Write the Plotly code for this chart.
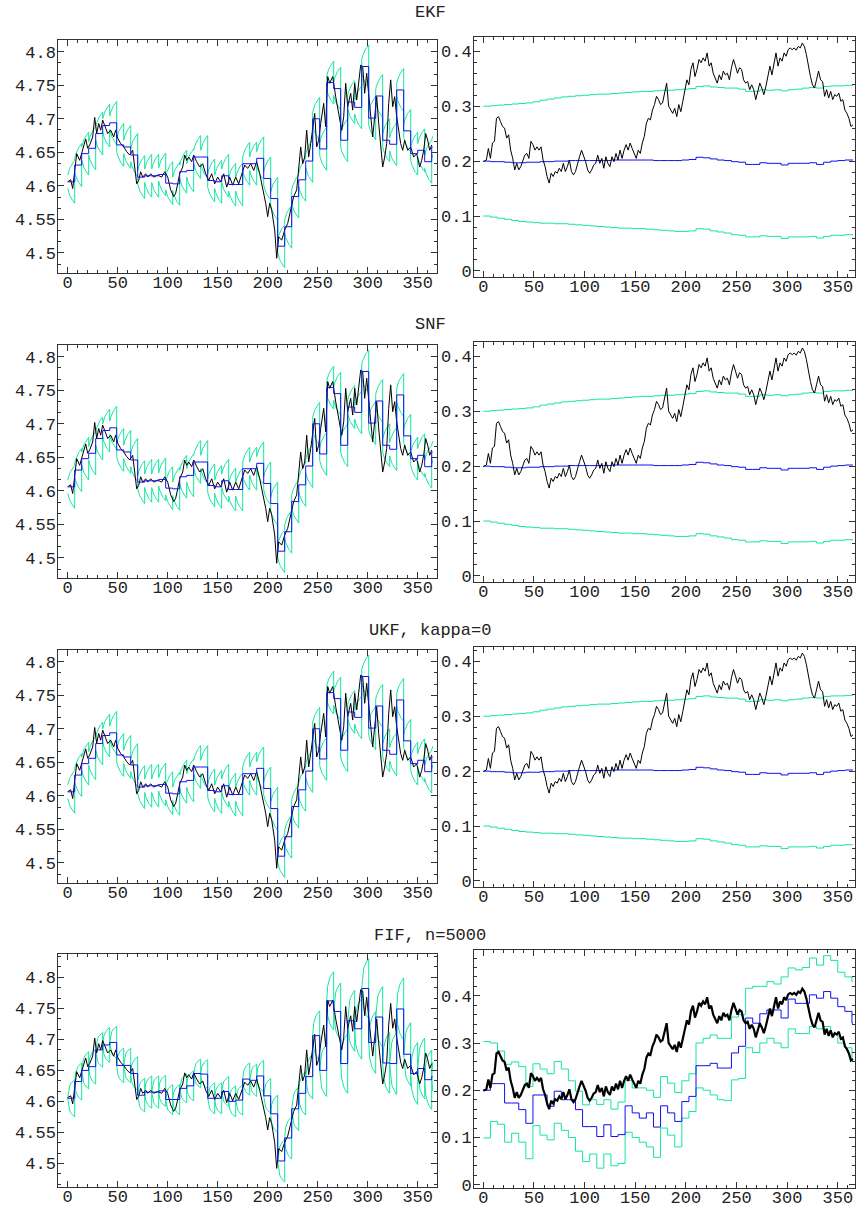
import plotly.graph_objects as go

W, H = 856, 1211
FONT = "Liberation Mono, Courier New, monospace"
GREEN = "#14E6A2"
BLUE = "#1010F0"
BLACK = "#000000"
FRAME = "#333333"

TITLES = ["EKF", "SNF", "UKF, kappa=0", "FIF, n=5000"]
LAST_DAY = 365
OBS_DAYS = list(range(0, 365, 7))  # weekly observations, 53 of them

# ---- observed log price (black, left panels) ----
PRICE_DAYS = [0, 3, 5, 8, 9, 12, 15, 18, 20, 22, 25, 27, 29, 31, 33, 35, 38, 40, 43, 46, 48, 50, 53, 56, 59,
              62, 65, 67, 69, 71, 73, 75, 78, 80, 83, 86, 90, 94, 97, 100, 103, 106, 108, 110, 112, 115, 117,
              119, 121, 124, 126, 129, 132, 135, 138, 141, 144, 147, 150, 153, 156, 159, 162, 165, 168, 171,
              174, 177, 180, 183, 186, 189, 192, 195, 198, 200, 202, 204, 207, 209, 211, 214, 217, 220, 223,
              226, 229, 231, 233, 235, 237, 239, 241, 243, 245, 247, 249, 251, 253, 256, 258, 260, 262, 265,
              268, 270, 272, 274, 276, 278, 280, 283, 285, 287, 289, 291, 293, 295, 297, 299, 301, 303, 305,
              307, 309, 311, 313, 315, 317, 319, 321, 323, 325, 327, 329, 331, 333, 335, 337, 340, 343, 346,
              349, 352, 354, 356, 358, 360, 362, 364]
PRICE = [4.606, 4.609, 4.596, 4.633, 4.648, 4.638, 4.653, 4.670, 4.656, 4.661, 4.673, 4.702, 4.678, 4.693,
         4.683, 4.698, 4.686, 4.678, 4.683, 4.673, 4.683, 4.671, 4.663, 4.658, 4.651, 4.646, 4.653, 4.628,
         4.603, 4.608, 4.621, 4.613, 4.618, 4.613, 4.618, 4.613, 4.616, 4.613, 4.621, 4.613, 4.594, 4.584,
         4.589, 4.603, 4.618, 4.628, 4.646, 4.638, 4.643, 4.636, 4.646, 4.636, 4.628, 4.633, 4.618, 4.608,
         4.618, 4.603, 4.613, 4.606, 4.618, 4.598, 4.613, 4.601, 4.613, 4.603, 4.618, 4.631, 4.626, 4.633,
         4.623, 4.636, 4.618, 4.598, 4.574, 4.554, 4.574, 4.564, 4.534, 4.492, 4.524, 4.519, 4.534, 4.544,
         4.564, 4.584, 4.594, 4.623, 4.658, 4.633, 4.643, 4.683, 4.643, 4.663, 4.688, 4.708, 4.658, 4.668,
         4.693, 4.723, 4.688, 4.763, 4.753, 4.763, 4.733, 4.718, 4.703, 4.683, 4.703, 4.753, 4.718, 4.738,
         4.713, 4.753, 4.728, 4.758, 4.780, 4.778, 4.738, 4.768, 4.738, 4.698, 4.673, 4.703, 4.733, 4.693,
         4.653, 4.628, 4.643, 4.663, 4.723, 4.758, 4.718, 4.733, 4.703, 4.683, 4.663, 4.653, 4.668, 4.653,
         4.658, 4.643, 4.648, 4.628, 4.638, 4.653, 4.678, 4.668, 4.653, 4.661]

# ---- filtered price estimates at each weekly observation (blue steps, left) ----
KF_PRICE_EST = [4.606, 4.631, 4.648, 4.656, 4.678, 4.690, 4.694, 4.661, 4.658, 4.646,
                4.613, 4.615, 4.615, 4.617, 4.604, 4.603, 4.621, 4.623, 4.643, 4.643,
                4.608, 4.606, 4.615, 4.602, 4.602, 4.633, 4.633, 4.641, 4.611, 4.581,
                4.510, 4.539, 4.584, 4.609, 4.637, 4.700, 4.655, 4.754, 4.745, 4.668,
                4.725, 4.717, 4.778, 4.701, 4.734, 4.668, 4.662, 4.743, 4.682, 4.648,
                4.653, 4.636, 4.658]
FIF_PRICE_EST = [4.605, 4.632, 4.650, 4.656, 4.683, 4.691, 4.695, 4.658, 4.658, 4.645,
                 4.610, 4.615, 4.615, 4.617, 4.603, 4.603, 4.621, 4.625, 4.645, 4.644,
                 4.605, 4.605, 4.616, 4.600, 4.602, 4.636, 4.634, 4.641, 4.609, 4.580,
                 4.504, 4.541, 4.588, 4.613, 4.640, 4.706, 4.650, 4.762, 4.745, 4.661,
                 4.730, 4.717, 4.782, 4.695, 4.736, 4.662, 4.661, 4.749, 4.676, 4.645,
                 4.653, 4.635, 4.640]
# band half-width by day since the last observation (EKF/SNF/UKF)
KF_BAND_HALFWIDTH = [0.010, 0.016, 0.020, 0.023, 0.026, 0.028, 0.030, 0.032]
# FIF: half-width at end of each week and relative shape within a week
FIF_BAND_END = [0.030, 0.030, 0.030, 0.028, 0.028, 0.028, 0.026, 0.028, 0.028, 0.027,
                0.027, 0.026, 0.026, 0.025, 0.024, 0.024, 0.023, 0.024, 0.023, 0.023,
                0.025, 0.025, 0.024, 0.025, 0.024, 0.026, 0.026, 0.025, 0.028, 0.030,
                0.034, 0.034, 0.035, 0.035, 0.036, 0.040, 0.042, 0.047, 0.046, 0.048,
                0.049, 0.049, 0.048, 0.050, 0.049, 0.049, 0.050, 0.050, 0.051, 0.050,
                0.049, 0.048, 0.047]
FIF_BAND_SHAPE = [0.0, 0.50, 0.66, 0.77, 0.85, 0.91, 0.96, 1.0]

# ---- true volatility (black, right panels) ----
VOL_DAYS = [0] + list(range(3, 366, 2))
VOL = [0.199, 0.202, 0.223, 0.205, 0.233, 0.236, 0.278, 0.281, 0.272, 0.263, 0.260, 0.242, 0.248, 0.220,
       0.205, 0.184, 0.196, 0.184, 0.190, 0.199, 0.211, 0.214, 0.205, 0.236, 0.230, 0.220, 0.226, 0.220,
       0.226, 0.202, 0.190, 0.172, 0.160, 0.178, 0.172, 0.181, 0.178, 0.187, 0.181, 0.196, 0.181, 0.190,
       0.202, 0.181, 0.175, 0.181, 0.196, 0.208, 0.220, 0.211, 0.199, 0.184, 0.178, 0.184, 0.193, 0.196,
       0.211, 0.196, 0.205, 0.187, 0.208, 0.196, 0.190, 0.208, 0.199, 0.214, 0.202, 0.220, 0.205, 0.220,
       0.230, 0.220, 0.233, 0.223, 0.214, 0.205, 0.220, 0.214, 0.233, 0.245, 0.269, 0.278, 0.275, 0.293,
       0.303, 0.318, 0.312, 0.303, 0.306, 0.327, 0.342, 0.300, 0.293, 0.287, 0.296, 0.281, 0.303, 0.290,
       0.309, 0.330, 0.348, 0.339, 0.367, 0.379, 0.354, 0.367, 0.385, 0.379, 0.388, 0.382, 0.397, 0.373,
       0.379, 0.360, 0.351, 0.342, 0.357, 0.348, 0.364, 0.357, 0.360, 0.348, 0.370, 0.385, 0.373, 0.360,
       0.370, 0.367, 0.348, 0.342, 0.345, 0.330, 0.339, 0.330, 0.312, 0.330, 0.342, 0.333, 0.321, 0.336,
       0.357, 0.373, 0.357, 0.379, 0.397, 0.373, 0.388, 0.382, 0.397, 0.391, 0.403, 0.406, 0.403, 0.406,
       0.402, 0.409, 0.406, 0.415, 0.409, 0.394, 0.370, 0.354, 0.339, 0.333, 0.348, 0.364, 0.348, 0.345,
       0.318, 0.330, 0.315, 0.327, 0.312, 0.321, 0.318, 0.324, 0.309, 0.312, 0.293, 0.287, 0.278, 0.263,
       0.266]

# ---- volatility estimates and bands (right panels), weekly ----
KF_VOL_UP = [0.300, 0.301, 0.302, 0.303, 0.304, 0.305, 0.306, 0.308, 0.311, 0.313,
             0.315, 0.317, 0.318, 0.319, 0.320, 0.321, 0.322, 0.322, 0.323, 0.324,
             0.325, 0.326, 0.327, 0.327, 0.328, 0.329, 0.329, 0.330, 0.331, 0.332,
             0.336, 0.337, 0.335, 0.334, 0.333, 0.333, 0.331, 0.327, 0.327, 0.330,
             0.329, 0.330, 0.328, 0.330, 0.331, 0.333, 0.334, 0.333, 0.336, 0.337,
             0.337, 0.338, 0.338]
KF_VOL_EST = [0.200, 0.199, 0.199, 0.198, 0.197, 0.197, 0.198, 0.198, 0.199, 0.199,
              0.200, 0.200, 0.201, 0.201, 0.201, 0.201, 0.201, 0.201, 0.202, 0.202,
              0.202, 0.202, 0.202, 0.202, 0.201, 0.201, 0.201, 0.201, 0.202, 0.203,
              0.207, 0.206, 0.204, 0.202, 0.201, 0.199, 0.198, 0.194, 0.194, 0.197,
              0.196, 0.196, 0.193, 0.196, 0.196, 0.196, 0.197, 0.194, 0.198, 0.200,
              0.201, 0.202, 0.202]
KF_VOL_LO = [0.100, 0.098, 0.096, 0.094, 0.092, 0.090, 0.089, 0.088, 0.087, 0.087,
             0.086, 0.086, 0.085, 0.084, 0.083, 0.082, 0.081, 0.080, 0.079, 0.078,
             0.078, 0.077, 0.077, 0.076, 0.075, 0.074, 0.073, 0.072, 0.072, 0.073,
             0.077, 0.076, 0.073, 0.071, 0.069, 0.066, 0.065, 0.062, 0.062, 0.064,
             0.063, 0.063, 0.059, 0.062, 0.062, 0.062, 0.063, 0.060, 0.063, 0.065,
             0.065, 0.066, 0.066]
FIF_VOL_UP = [0.303, 0.300, 0.283, 0.255, 0.260, 0.250, 0.208, 0.256, 0.245, 0.235,
              0.261, 0.245, 0.220, 0.198, 0.169, 0.180, 0.170, 0.180, 0.160, 0.175,
              0.221, 0.205, 0.205, 0.200, 0.185, 0.229, 0.215, 0.195, 0.220, 0.235,
              0.300, 0.310, 0.317, 0.310, 0.310, 0.355, 0.360, 0.416, 0.420, 0.420,
              0.430, 0.425, 0.440, 0.459, 0.455, 0.460, 0.480, 0.465, 0.485, 0.475,
              0.450, 0.440, 0.430]
FIF_VOL_EST = [0.200, 0.214, 0.214, 0.173, 0.173, 0.159, 0.130, 0.190, 0.190, 0.166,
               0.198, 0.180, 0.180, 0.159, 0.123, 0.123, 0.102, 0.127, 0.102, 0.106,
               0.167, 0.152, 0.141, 0.152, 0.122, 0.167, 0.152, 0.134, 0.176, 0.187,
               0.252, 0.252, 0.257, 0.247, 0.247, 0.279, 0.293, 0.353, 0.342, 0.362,
               0.370, 0.370, 0.353, 0.393, 0.384, 0.384, 0.402, 0.395, 0.409, 0.395,
               0.377, 0.367, 0.342]
FIF_VOL_LO = [0.099, 0.134, 0.128, 0.090, 0.109, 0.090, 0.055, 0.125, 0.105, 0.095,
              0.130, 0.115, 0.100, 0.071, 0.049, 0.065, 0.035, 0.065, 0.040, 0.045,
              0.111, 0.100, 0.090, 0.080, 0.058, 0.120, 0.105, 0.080, 0.141, 0.155,
              0.205, 0.200, 0.190, 0.180, 0.178, 0.222, 0.225, 0.290, 0.280, 0.300,
              0.310, 0.300, 0.290, 0.330, 0.320, 0.320, 0.335, 0.330, 0.335, 0.320,
              0.300, 0.290, 0.265]

# ---------------- layout geometry (page pixels) ----------------
LEFT_X = (58.3, 436.7)
RIGHT_X = (474.0, 855.0)
LEFT_Y = [(40, 273), (345, 578), (650, 883), (954, 1187)]
RIGHT_Y = [(37, 277), (342, 582), (647, 887), (950, 1188)]
TITLE_Y = [13, 325, 630, 935]
TITLE_X = 430
LEFT_YRANGE = [(4.470, 4.8175)] * 3 + [(4.462, 4.8376)]
RIGHT_YRANGE = [(-0.011, 0.426)] * 3 + [(-0.007, 0.497)]


def fx(px):
    return px / W


def fy(py):
    return 1 - py / H


def band_line(centers, halfwidth, sign):
    xs, ys = [], []
    for k, c in enumerate(centers):
        start = OBS_DAYS[k]
        end = min(start + 7, LAST_DAY)
        for j in range(end - start + 1):
            xs.append(start + j)
            ys.append(c + sign * halfwidth(k, j))
    return xs, ys


fig = go.Figure()


def add(trace, idx):
    sfx = "" if idx == 1 else str(idx)
    trace.update(xaxis="x" + sfx, yaxis="y" + sfx, showlegend=False, hoverinfo="skip")
    fig.add_trace(trace)


step_x = OBS_DAYS + [LAST_DAY]
for r in range(4):
    li = 2 * r + 1
    ri = 2 * r + 2
    fif = (r == 3)
    centers = FIF_PRICE_EST if fif else KF_PRICE_EST
    if fif:
        hw = lambda k, j: FIF_BAND_END[k] * FIF_BAND_SHAPE[j]
    else:
        hw = lambda k, j: KF_BAND_HALFWIDTH[j]
    for sgn in (1, -1):
        bx, by = band_line(centers, hw, sgn)
        add(go.Scatter(x=bx, y=by, mode="lines", line=dict(color=GREEN, width=1)), li)
    add(go.Scatter(x=PRICE_DAYS, y=PRICE, mode="lines", line=dict(color=BLACK, width=1)), li)
    add(go.Scatter(x=step_x, y=centers + [centers[-1]], mode="lines", line_shape="hv",
                   line=dict(color=BLUE, width=1)), li)

    up, est, lo = (FIF_VOL_UP, FIF_VOL_EST, FIF_VOL_LO) if fif else (KF_VOL_UP, KF_VOL_EST, KF_VOL_LO)
    for series, col in ((up, GREEN), (lo, GREEN), (est, BLUE)):
        add(go.Scatter(x=step_x, y=series + [series[-1]], mode="lines", line_shape="hv",
                       line=dict(color=col, width=1)), ri)
    add(go.Scatter(x=VOL_DAYS, y=VOL, mode="lines",
                   line=dict(color=BLACK, width=2.2 if fif else 1)), ri)

layout = dict(width=W, height=H, margin=dict(l=0, r=0, t=0, b=0, autoexpand=False),
              paper_bgcolor="white", plot_bgcolor="white",
              font=dict(family=FONT, size=17, color="#222"))

axis_common = dict(showgrid=False, zeroline=False, showline=True, linecolor=FRAME, linewidth=1,
                   mirror="allticks", ticks="inside", ticklen=6, tickwidth=1, tickcolor=FRAME,
                   automargin=False, tickfont=dict(family=FONT, size=17, color="#222"))

for r in range(4):
    for c in range(2):
        idx = 2 * r + c + 1
        sfx = "" if idx == 1 else str(idx)
        if c == 0:
            x0, x1 = LEFT_X
            y0, y1 = LEFT_Y[r]
            xr = [-9.4, 369.0]
            yr = LEFT_YRANGE[r]
            ytick = dict(tick0=4.5, dtick=0.05, minor=dict(dtick=0.05 / 3, ticklen=3, ticks="inside",
                                                          tickcolor=FRAME))
        else:
            x0, x1 = RIGHT_X
            y0, y1 = RIGHT_Y[r]
            xr = [-9.2, 367.0]
            yr = RIGHT_YRANGE[r]
            ytick = dict(tick0=0, dtick=0.1, minor=dict(dtick=0.02, ticklen=3, ticks="inside",
                                                        tickcolor=FRAME))
        layout["xaxis" + sfx] = dict(axis_common, domain=[fx(x0), fx(x1)], range=xr,
                                     anchor="y" + sfx, tick0=0, dtick=50, ticklabelstandoff=-6,
                                     minor=dict(dtick=10, ticklen=3, ticks="inside", tickcolor=FRAME))
        layout["yaxis" + sfx] = dict(axis_common, domain=[fy(y1), fy(y0)], range=list(yr),
                                     anchor="x" + sfx, ticklabelstandoff=-2, **ytick)

layout["annotations"] = [dict(text=t, x=fx(TITLE_X), y=fy(ty), xref="paper", yref="paper",
                              showarrow=False, xanchor="center", yanchor="middle",
                              font=dict(family=FONT, size=17, color="#222"))
                         for t, ty in zip(TITLES, TITLE_Y)]
fig.update_layout(**layout)
fig.write_html(
    "out.html",
    config={"displayModeBar": False, "staticPlot": True},
    post_script=("document.body.style.margin='0';"
                 "document.body.style.overflow='hidden';"
                 "document.documentElement.style.overflow='hidden';"),
)
